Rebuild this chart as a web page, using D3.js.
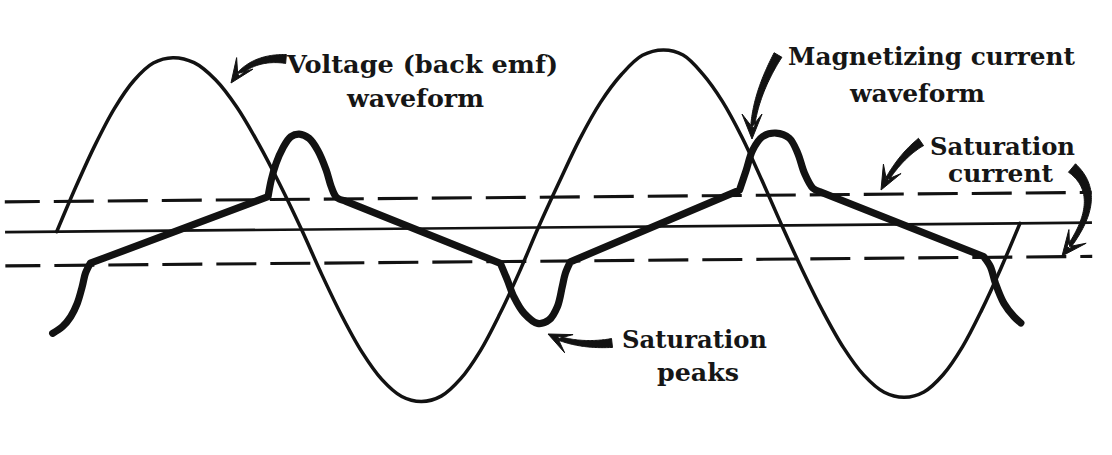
<!DOCTYPE html>
<html><head><meta charset="utf-8">
<script src="https://cdn.jsdelivr.net/npm/d3@7"></script>
<style>html,body{margin:0;padding:0;background:#fff;} svg{display:block;}</style>
</head><body>
<svg id="chart" width="1112" height="455"></svg>
<script>
// ---------------- data (phase in electrical degrees, amplitude relative to voltage peak) ----------------
const voltagePhase = [0,14.7,29.3,44,58.7,73.3,88, 103.8,119.7,135.5,151.3,167.2,183,
  197.8,212.5,227.3,242,256.8,271.5, 286.3,301,315.8,330.5,345.3,360,
  375.8,391.6,407.3,423.1,438.9,454.7, 469.3,483.8,498.4,512.9,527.5,542,
  557.1,572.2,587.3,602.3,617.4,632.5, 647.1,661.7,676.3,690.8,705.4,720];
const voltageValue = [0,.26,.5,.71,.87,.97,1, .97,.87,.71,.5,.26,0,
  -.26,-.5,-.71,-.87,-.97,-1, -.97,-.87,-.71,-.5,-.26,0,
  .26,.51,.72,.88,.99,1.02, .99,.88,.72,.51,.26,0,
  -.26,-.5,-.71,-.87,-.97,-1, -.97,-.87,-.71,-.5,-.26,0];

// magnetizing current: curved saturation lobes, joined by straight (linear) stretches
const currentStartPhase  = [-3.7,3.7,9.9,14.9,18.7,21.2,24.9];
const currentStartValue  = [-0.587,-0.549,-0.492,-0.415,-0.319,-0.242,-0.184];
const currentPeak1Phase  = [158.2,160.7,164.4,169.4,175.6,181.9,189.3,195.5,201.8,205.5,209.3,215.5];
const currentPeak1Value  = [0.192,0.288,0.384,0.470,0.537,0.552,0.527,0.459,0.343,0.246,0.185,0.164];
const currentTroughPhase = [331.4,336.4,341.3,348.8,358.8,367.4,373.7,377.5,379.9,383.7];
const currentTroughValue = [-0.205,-0.30,-0.40,-0.495,-0.554,-0.535,-0.459,-0.343,-0.266,-0.2];
const currentPeak2Phase  = [510.6,515.7,520.7,528.2,538.2,548.1,554.3,559.3,565.5,570.5];
const currentPeak2Value  = [0.206,0.32,0.437,0.514,0.534,0.504,0.418,0.30,0.213,0.193];
const currentEndPhase    = [692.6,697.6,701.3,707.5,715,720];
const currentEndValue    = [-0.19,-0.249,-0.346,-0.462,-0.54,-0.576];

// reference levels
const levelKind  = ["saturation","zero","saturation"];
const levelValue = [0.175, 0, -0.195];
const levelPhaseRange = [-38.6, 773.8];

// annotation texts
const labelLines = [
  ["Voltage (back emf)", "waveform"],
  ["Magnetizing current", "waveform"],
  ["Saturation", "current"],
  ["Saturation", "peaks"]
];

// ---------------- layout ----------------
const W = 1112, H = 455;
const origin = [56.7, 231.7];      // pixel of phase 0, value 0
const tilt = -0.5;                 // scan tilt of the drawing (degrees)
const ink = "#121212";

const x = d3.scaleLinear().domain([0, 720]).range([origin[0], origin[0] + 963.3]);
const y = d3.scaleLinear().domain([-1, 1]).range([origin[1] + 173, origin[1] - 173]);

const svg = d3.select("#chart");
svg.append("rect").attr("width", W).attr("height", H).attr("fill", "#fff");

const g = svg.append("g").attr("transform", `rotate(${tilt},${origin[0]},${origin[1]})`);

// level lines
levelValue.forEach((v, i) => {
  g.append("line")
    .attr("x1", x(levelPhaseRange[0])).attr("x2", x(levelPhaseRange[1]))
    .attr("y1", y(v)).attr("y2", y(v))
    .attr("stroke", ink)
    .attr("stroke-width", levelKind[i] === "zero" ? 2.7 : 3.1)
    .attr("stroke-dasharray", levelKind[i] === "zero" ? null : "40,14")
    .attr("stroke-dashoffset", levelKind[i] === "zero" ? 0 : 5);
});

// voltage waveform
const vData = voltagePhase.map((p, i) => [p, voltageValue[i]]);
const lineGen = d3.line().x(d => x(d[0])).y(d => y(d[1])).curve(d3.curveCatmullRom.alpha(0.5));
g.append("path").attr("d", lineGen(vData))
  .attr("fill", "none").attr("stroke", ink).attr("stroke-width", 3.5)
  .attr("stroke-linecap", "round");

// magnetizing current waveform
const lobes = [
  [currentStartPhase, currentStartValue],
  [currentPeak1Phase, currentPeak1Value],
  [currentTroughPhase, currentTroughValue],
  [currentPeak2Phase, currentPeak2Value],
  [currentEndPhase, currentEndValue]
].map(([ph, va]) => ph.map((p, i) => [p, va[i]]));
const currentD = lobes.map((l, i) => {
  const d = lineGen(l);
  return i ? d.replace(/^M/, "L") : d;
}).join("");
g.append("path").attr("d", currentD)
  .attr("fill", "none").attr("stroke", ink).attr("stroke-width", 7.2)
  .attr("stroke-linejoin", "round").attr("stroke-linecap", "round");

// ---------------- annotations ----------------
function arrowShape(t, c, p, wTail, wNeck, headLen, headHalf) {
  const N = 40;
  const bz = s => [(1-s)*(1-s)*t[0] + 2*(1-s)*s*c[0] + s*s*p[0],
                   (1-s)*(1-s)*t[1] + 2*(1-s)*s*c[1] + s*s*p[1]];
  const dz = s => [2*(1-s)*(c[0]-t[0]) + 2*s*(p[0]-c[0]),
                   2*(1-s)*(c[1]-t[1]) + 2*s*(p[1]-c[1])];
  const pts = d3.range(N + 1).map(i => bz(i / N));
  let L = 0; const cum = [0];
  for (let i = 1; i <= N; i++) { L += Math.hypot(pts[i][0]-pts[i-1][0], pts[i][1]-pts[i-1][1]); cum.push(L); }
  const endLen = L - headLen * 0.6;
  let sEnd = 1;
  for (let i = 1; i <= N; i++) if (cum[i] >= endLen) { sEnd = i / N; break; }
  const left = [], right = [];
  for (let i = 0; i <= N; i++) {
    const s = sEnd * i / N;
    const pt = bz(s), d = dz(s), m = Math.hypot(d[0], d[1]);
    const n = [-d[1]/m, d[0]/m];
    const w = (wTail + (wNeck - wTail) * Math.pow(i / N, 0.8)) / 2;
    left.push([pt[0] + n[0]*w, pt[1] + n[1]*w]);
    right.push([pt[0] - n[0]*w, pt[1] - n[1]*w]);
  }
  const body = "M" + left.map(q => q.join(",")).join("L") + "L" + right.reverse().map(q => q.join(",")).join("L") + "Z";
  const d = dz(1), m = Math.hypot(d[0], d[1]);
  const u = [d[0]/m, d[1]/m], n = [-u[1], u[0]];
  const base = [p[0] - u[0]*headLen, p[1] - u[1]*headLen];
  const b1 = [base[0] + n[0]*headHalf - u[0]*3, base[1] + n[1]*headHalf - u[1]*3];
  const b2 = [base[0] - n[0]*headHalf - u[0]*3, base[1] - n[1]*headHalf - u[1]*3];
  const notch = [p[0] - u[0]*headLen*0.55, p[1] - u[1]*headLen*0.55];
  const head = `M${p.join(",")}L${b1.join(",")}L${notch.join(",")}L${b2.join(",")}Z`;
  return body + head;
}

const arrowLayout = [
  { t: [286, 59],  c: [250, 56],   p: [231, 83],  wTail: 9,  wNeck: 3.8, headLen: 21, headHalf: 10 },
  { t: [778, 55],  c: [752, 100],  p: [752, 139], wTail: 9,  wNeck: 3.8, headLen: 22, headHalf: 10 },
  { t: [921, 142], c: [898, 158],  p: [881, 190], wTail: 9,  wNeck: 3.8, headLen: 21, headHalf: 10 },
  { t: [1072, 168], c: [1108, 198], p: [1062, 256], wTail: 11, wNeck: 3.8, headLen: 22, headHalf: 11 },
  { t: [612, 343], c: [576, 347],  p: [548, 334], wTail: 9,  wNeck: 3.8, headLen: 20, headHalf: 10 }
];
arrowLayout.forEach(a => {
  svg.append("path").attr("d", arrowShape(a.t, a.c, a.p, a.wTail, a.wNeck, a.headLen, a.headHalf))
    .attr("fill", ink).attr("stroke", ink).attr("stroke-width", 1).attr("stroke-linejoin", "round");
});

// text placement: [x start, baseline, width] per line
const labelLayout = [
  [[287, 73, 271], [347, 107, 137]],
  [[788, 65, 287], [850, 101.5, 135]],
  [[930, 155, 145], [948, 182, 105]],
  [[622, 348, 145], [657, 381, 82]]
];
labelLines.forEach((lines, i) => {
  lines.forEach((txt, j) => {
    const [lx, ly, lw] = labelLayout[i][j];
    svg.append("text")
      .attr("x", lx).attr("y", ly)
      .attr("textLength", lw).attr("lengthAdjust", "spacingAndGlyphs")
      .attr("font-family", "'DejaVu Serif', serif")
      .attr("font-weight", "bold")
      .attr("font-size", 24)
      .attr("fill", "#161616")
      .text(txt);
  });
});
</script>
</body></html>
